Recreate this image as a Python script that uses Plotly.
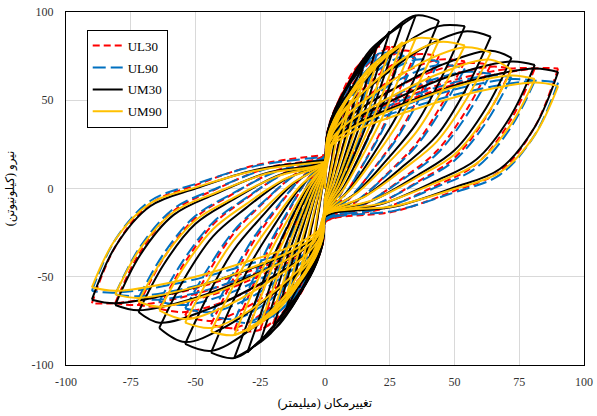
import plotly.graph_objects as go

# ---------------- data ----------------
amp = [5, 10, 15, 20, 25, 30, 35, 44, 54, 64, 72, 81, 90]

# UL30 (red dashed)
ul30_pos_prev = [0, 38, 60, 73, 80, 80, 78, 76, 73, 71, 69, 68, 68]
ul30_pos_tip = [40, 62, 74, 80, 80, 79, 77, 75, 72, 70, 68, 68, 68]
ul30_neg_prev = [0, -37, -57, -69, -76, -80, -80, -79, -75, -70, -67, -66, -65]
ul30_neg_tip = [-38, -58, -70, -77, -80, -81, -80, -77, -72, -68, -66, -65, -65]
ul30_pinch = [5, 9, 12, 15, 17, 18, 19, 19, 19, 19, 19, 19, 19]

# UL90 (blue dashed)
ul90_pos_prev = [0, 36, 56, 69, 76, 77, 75, 73, 70, 66, 64, 62, 61]
ul90_pos_tip = [37, 58, 70, 76, 77, 76, 74, 72, 68, 65, 63, 61, 60]
ul90_neg_prev = [0, -35, -54, -66, -72, -75, -76, -74, -70, -66, -63, -61, -59]
ul90_neg_tip = [-36, -55, -67, -73, -76, -76, -75, -72, -68, -64, -62, -60, -58]
ul90_pinch = [5, 9, 12, 15, 16, 17, 18, 18, 18, 18, 18, 18, 18]

# UM30 (black)
um30_pos_prev = [0, 36, 56, 70, 80, 88, 93, 98, 92, 89, 78, 72, 68]
um30_pos_tip = [38, 58, 71, 81, 89, 94, 98, 95, 92, 86, 74, 70, 66]
um30_neg_prev = [0, -35, -55, -68, -78, -86, -92, -96, -92, -87, -76, -69, -65]
um30_neg_tip = [-37, -56, -69, -79, -87, -93, -96, -93, -88, -79, -70, -66, -63]
um30_pinch = [5, 8, 11, 13, 14, 15, 16, 16, 16, 16, 16, 16, 16]

# UM90 (yellow)
um90_pos_prev = [0, 31, 49, 61, 70, 77, 82, 85, 83, 80, 73, 64, 60]
um90_pos_tip = [32, 50, 62, 71, 78, 83, 85, 84, 81, 77, 67, 62, 58]
um90_neg_prev = [0, -31, -48, -60, -69, -76, -80, -83, -79, -74, -67, -62, -58]
um90_neg_tip = [-32, -49, -61, -70, -77, -81, -83, -81, -76, -69, -64, -60, -56]
um90_pinch = [5, 8, 10, 12, 13, 14, 15, 15, 15, 15, 15, 15, 15]

x_ticks = [-100, -75, -50, -25, 0, 25, 50, 75, 100]
y_ticks = [-100, -50, 0, 50, 100]

# ---------------- curve-shape vertices (style) ----------------
LX = [0.0, 0.03, 0.15, 0.4, 0.7, 1.0]
LY = [0.0, 0.2, 0.4, 0.64, 0.87, 1.0]
UXA = [1.0, 0.8, 0.6, 0.4, 0.2, 0.0]
UYA = [1.0, 0.8, 0.58, 0.37, 0.17, 0.0]
UXB = [1.0, 0.9, 0.75, 0.55, 0.3, 0.0]
UYB = [1.0, 0.62, 0.33, 0.2, 0.07, 0.0]
AMAX = 90.0


def unload(xt, yt, yc):
    w = min(1.0, abs(xt) / AMAX) ** 2
    pts = []
    for a, b, c, d in zip(UXA, UYA, UXB, UYB):
        fx = a * (1 - w) + c * w
        fy = b * (1 - w) + d * w
        pts.append((xt * fx, yc + (yt - yc) * fy))
    return pts


def load(yc, xt, yt):
    return [(xt * fx, yc + (yt - yc) * fy) for fx, fy in zip(LX, LY)]


def hysteresis(amps, pos_prev, pos_tip, neg_prev, neg_tip, pinch):
    xs, ys = [], []
    last = None
    for i, d in enumerate(amps):
        dp = amps[i - 1] if i > 0 else 0
        c = pinch[i]
        if last is None:
            seg = load(0.0, d, pos_tip[i])
        else:
            seg = unload(last[0], last[1], c)[:-1]
            if dp > 0:
                seg += load(c, dp, pos_prev[i])
            seg.append((d, pos_tip[i]))
        xs += [p[0] for p in seg] + [None]
        ys += [p[1] for p in seg] + [None]
        seg = unload(d, pos_tip[i], -c)[:-1]
        if dp > 0:
            seg += load(-c, -dp, neg_prev[i])
        else:
            seg += load(-c, -d * 0.999, neg_tip[i])[:-1]
        seg.append((-d, neg_tip[i]))
        xs += [p[0] for p in seg] + [None]
        ys += [p[1] for p in seg] + [None]
        last = (-d, neg_tip[i])
    seg = unload(last[0], last[1], pinch[-1])
    xs += [p[0] for p in seg]
    ys += [p[1] for p in seg]
    return xs, ys


series = [
    ("UL30", "#FF0000", "7px,4px",
     (ul30_pos_prev, ul30_pos_tip, ul30_neg_prev, ul30_neg_tip, ul30_pinch)),
    ("UL90", "#0070C0", "13px,5px",
     (ul90_pos_prev, ul90_pos_tip, ul90_neg_prev, ul90_neg_tip, ul90_pinch)),
    ("UM30", "#000000", "solid",
     (um30_pos_prev, um30_pos_tip, um30_neg_prev, um30_neg_tip, um30_pinch)),
    ("UM90", "#FFC000", "solid",
     (um90_pos_prev, um90_pos_tip, um90_neg_prev, um90_neg_tip, um90_pinch)),
]

fig = go.Figure()
for name, color, dash, arrs in series:
    xs, ys = hysteresis(amp, *arrs)
    fig.add_trace(go.Scatter(
        x=xs, y=ys, name=name, mode="lines", legendgroup=name,
        line=dict(color=color, width=2, dash=dash, shape="spline", smoothing=1.0),
        connectgaps=False,
    ))

tick_font = dict(family="Liberation Serif, serif", size=12, color="#333333")
title_font = dict(family="Liberation Serif, DejaVu Serif, DejaVu Sans, serif", size=12, color="#000000")

fig.update_layout(
    width=597, height=416,
    margin=dict(l=66, r=13, t=12, b=51, autoexpand=False),
    paper_bgcolor="white", plot_bgcolor="white",
    showlegend=True,
    legend=dict(
        x=0.04, y=0.95, xanchor="left", yanchor="top",
        bgcolor="white", bordercolor="#000000", borderwidth=1,
        font=dict(family="Liberation Serif, serif", size=13, color="#000000"),
        tracegroupgap=2,
    ),
    xaxis=dict(
        range=[-100, 100], tickvals=x_ticks, ticktext=[str(v) for v in x_ticks],
        showgrid=True, gridcolor="#D9D9D9", gridwidth=1, automargin=False,
        zeroline=False, showline=True, mirror=True, linecolor="#000000", linewidth=1,
        ticks="", tickfont=tick_font, ticklabelstandoff=6,
        title=dict(text="تغییرمکان (میلیمتر)", font=title_font, standoff=10),
    ),
    yaxis=dict(
        range=[-100, 100], tickvals=y_ticks, ticktext=[str(v) for v in y_ticks],
        showgrid=True, gridcolor="#D9D9D9", gridwidth=1, automargin=False,
        zeroline=False, showline=True, mirror=True, linecolor="#000000", linewidth=1,
        ticks="", tickfont=tick_font, ticklabelstandoff=9,
        title=dict(text="نیرو (کیلونیوتن)", font=title_font, standoff=14),
    ),
)

# remove the default page margin so the 597x416 figure fills the window exactly
fig.write_html(
    "out.html",
    config={"displayModeBar": False},
    post_script="document.body.style.margin='0';document.body.style.overflow='hidden';",
)
